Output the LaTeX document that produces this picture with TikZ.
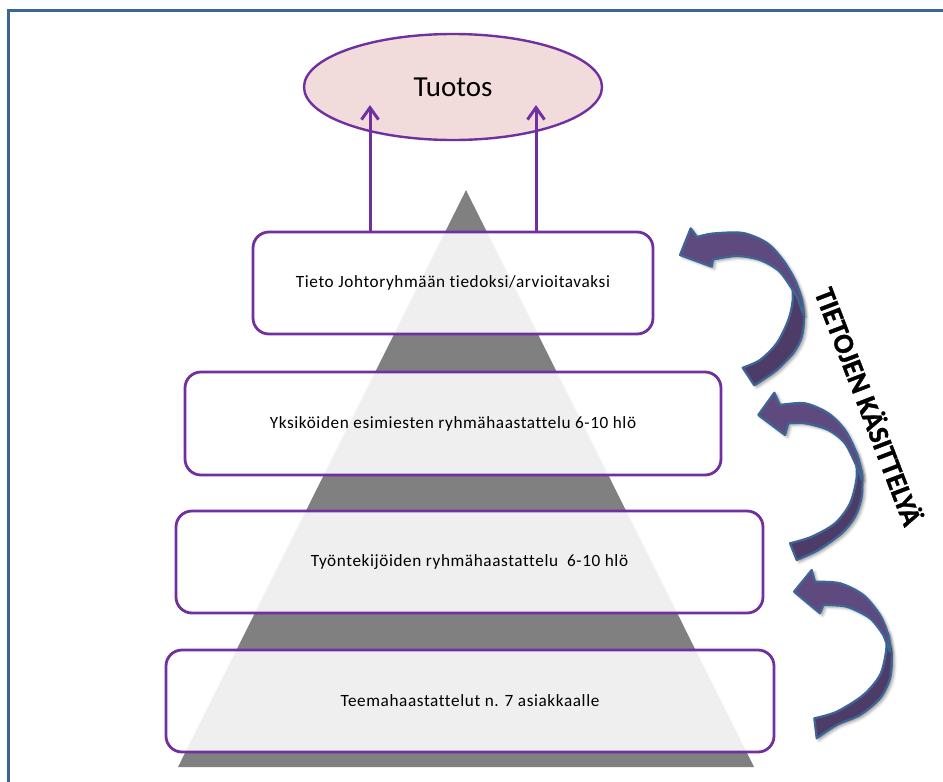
\documentclass[tikz,border=0pt]{standalone}
\usepackage{fontspec}
\setmainfont{Carlito}[Ligatures={NoCommon}]
\usetikzlibrary{shapes.geometric,arrows.meta,shadows.blur,calc}

\definecolor{frameblue}{HTML}{3C6494}
\definecolor{boxpurple}{HTML}{7030A0}
\definecolor{pyrgray}{HTML}{808080}
\definecolor{tuotospink}{HTML}{F2DCDB}
\definecolor{arrlight}{HTML}{5E4A7E}
\definecolor{arrdark}{HTML}{4E3C68}
\definecolor{arredge}{HTML}{3D6596}

\begin{document}
\begin{tikzpicture}[x=1pt,y=-1pt,
  stage/.style={draw=boxpurple, line width=2.8pt, rounded corners=16pt,
    fill=white, fill opacity=0.88, text opacity=1, inner sep=0pt,
    font=\fontsize{17.2}{20}\selectfont\addfontfeature{LetterSpace=3.5}},
  goal/.style={ellipse, draw=boxpurple, line width=2.4pt, fill=tuotospink,
    inner sep=0pt, font=\fontsize{29}{34}\selectfont},
  link/.style={draw=boxpurple, line width=3pt, line cap=round,
    -{Straight Barb[length=12pt,width=17pt]}},
  ribbon/.style={fill=#1, draw=arredge, line width=2.2pt, line join=round},
  softshadow/.style={blur shadow={shadow xshift=2.5pt, shadow yshift=-2pt,
    shadow blur radius=3pt, shadow opacity=40}}]

\useasboundingbox (0,0) rectangle (943,782);

% page frame (left and top edges)
\draw[frameblue, line width=3pt] (8,782) -- (8,10) -- (943,10);

% pyramid
\fill[pyrgray] (466,190) -- (178,767) -- (754,767) -- cycle;

% stages of the pyramid
\node[stage, minimum width=400, minimum height=102] (b1) at (453,283)
  {Tieto Johtoryhmään tiedoksi/arvioitavaksi};
\node[stage, minimum width=536, minimum height=103] (b2) at (453,423.5)
  {Yksiköiden esimiesten ryhmähaastattelu 6-10 hlö};
\node[stage, minimum width=587, minimum height=102] (b3) at (469.5,562)
  {Työntekijöiden ryhmähaastattelu \ 6-10 hlö};
\node[stage, minimum width=608, minimum height=102] (b4) at (470,701)
  {Teemahaastattelut n. 7 asiakkaalle};

% result
\node[goal, minimum width=298, minimum height=106] (tuotos) at (453,87) {Tuotos};

\coordinate (t1) at (370,105);
\coordinate (t2) at (536,105);
\draw[link] (b1.north -| t1) -- (t1);
\draw[link] (b1.north -| t2) -- (t2);

% curved arrows: back band first, front band with head on top
% upper arrow
\filldraw[ribbon=arrdark, softshadow]
  plot[smooth] coordinates {(791.7,278) (800,297) (804,317) (801.7,337) (793.3,353) (776.7,370) (760,381.7) (754.3,385.3)}
  -- plot[smooth] coordinates {(742.7,367.7) (760,360) (776.7,343.3) (788.3,320) (792.7,300) (791.7,278)} -- cycle;
\filldraw[ribbon=arrlight, softshadow]
  (680,255) -- (690.7,228.3)
  -- plot[smooth] coordinates {(697,237) (713,233.5) (743,233) (767,243) (783,260) (795,280) (802,300) (803.5,315)}
  -- plot[smooth] coordinates {(797,297) (780,272) (760,260) (737,256) (713,259.5)}
  -- (711.7,266.7) -- cycle;

% middle arrow
\filldraw[ribbon=arrdark, softshadow]
  plot[smooth] coordinates {(855,451.7) (861.7,473.3) (861.7,496.7) (855,516.7) (841.7,533.3) (818.3,550) (796.7,560)}
  -- plot[smooth] coordinates {(790,543.3) (811.7,536.7) (835,523.3) (850,503.3) (856.7,476.7) (855,451.7)} -- cycle;
\filldraw[ribbon=arrlight, softshadow]
  (758.3,415) -- (774.3,392.7)
  -- plot[smooth] coordinates {(780,405) (805,403.3) (828.3,413.3) (845,430) (856.7,453.3) (861.7,473.3) (861.7,480)}
  -- plot[smooth] coordinates {(856.7,466.7) (845,443.3) (828.3,430) (805,423.3) (788.3,423.3)}
  -- (785,435) -- cycle;

% lower arrow
\filldraw[ribbon=arrdark, softshadow]
  plot[smooth] coordinates {(886.7,631.7) (891.7,655) (890,678.3) (880,698.3) (860,715) (836.7,725) (816.7,738.3)}
  -- plot[smooth] coordinates {(814.3,718.3) (836.7,711.7) (863.3,695) (880,675) (886,651.7) (886.7,631.7)} -- cycle;
\filldraw[ribbon=arrlight, softshadow]
  (794,591.7) -- (811.7,570)
  -- plot[smooth] coordinates {(815,581.7) (840,583.3) (863.3,595) (880,615) (888.3,635) (890,651.7)}
  -- plot[smooth] coordinates {(883.3,635) (870,618.3) (846.7,606.7) (823.3,605)}
  -- (820,613.3) -- cycle;

% side label
\node[rotate=-69, font=\fontsize{28.5}{32}\selectfont\bfseries\addfontfeature{FakeBold=1.2}]
  (side) at (870,406) {TIETOJEN KÄSITTELYÄ};

\end{tikzpicture}
\end{document}
